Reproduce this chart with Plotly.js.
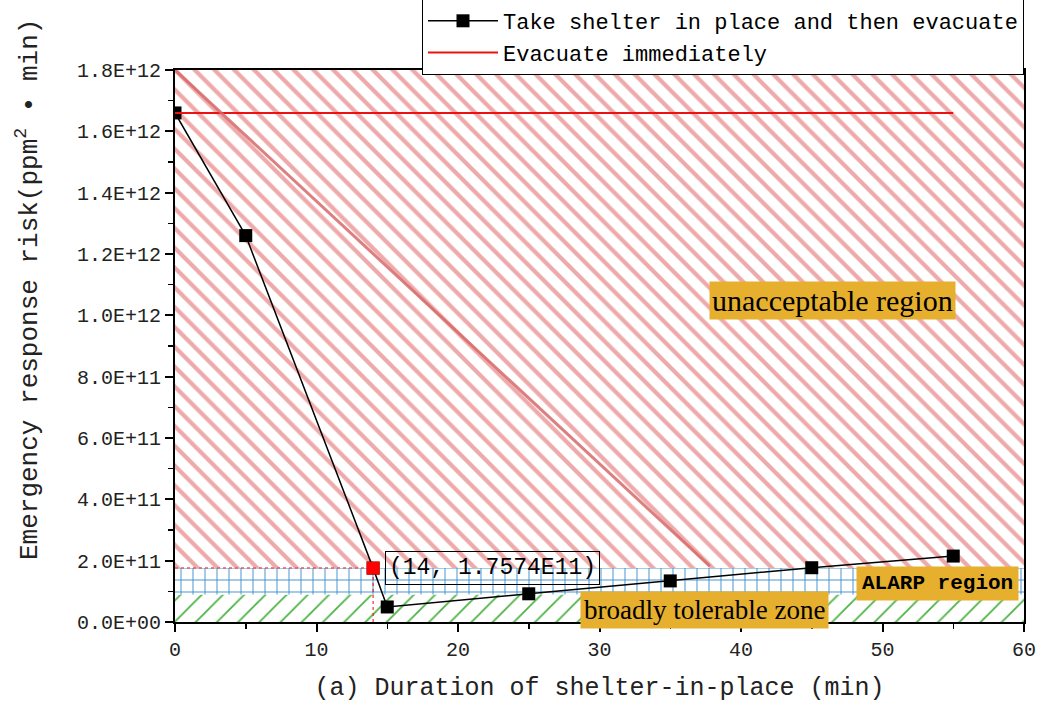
<!DOCTYPE html>
<html><head><meta charset="utf-8">
<script src="https://cdn.plot.ly/plotly-3.0.1.min.js"></script>
<style>html,body{margin:0;padding:0;background:#fff}#chart{width:1049px;height:711px}</style>
</head><body><div id="chart"></div>
<script>
// Data
const shelterX = [0, 5, 14, 15, 25, 35, 45, 55];
const shelterY = [1.66e12, 1.26e12, 1.7574e11, 0.49e11, 0.92e11, 1.34e11, 1.77e11, 2.15e11];
const evacX = [0, 55];
const evacY = [1.66e12, 1.66e12];
const turnX = [14];
const turnY = [1.7574e11];
const regionBounds = [0, 0.09e12, 1.7574e11, 1.8e12]; // tolerable | ALARP | unacceptable
const xRange = [0, 60];
const yTickVals = [0, 2e11, 4e11, 6e11, 8e11, 1e12, 1.2e12, 1.4e12, 1.6e12, 1.8e12];
const yTickText = ["0.0E+00","2.0E+11","4.0E+11","6.0E+11","8.0E+11","1.0E+12","1.2E+12","1.4E+12","1.6E+12","1.8E+12"];
const xTickVals = [0, 10, 20, 30, 40, 50, 60];

const mono = "Liberation Mono, DejaVu Sans Mono, monospace";
const serif = "Liberation Serif, DejaVu Serif, serif";

function band(y0, y1, pattern, name) {
  return {
    x: [xRange[0], xRange[1], xRange[1], xRange[0], xRange[0]],
    y: [y0, y0, y1, y1, y0],
    mode: 'lines', line: {width: 0}, fill: 'toself', fillcolor: 'rgba(255,255,255,0)',
    fillpattern: pattern, showlegend: false, hoverinfo: 'skip', name: name
  };
}

const traces = [
  band(regionBounds[0], regionBounds[1], {shape: '/', fgcolor: '#4db346', bgcolor: 'white', size: 15, solidity: 0.12}, 'tolerable'),
  band(regionBounds[1], regionBounds[2], {shape: '+', fgcolor: '#3d8fcc', bgcolor: 'white', size: 12, solidity: 0.15}, 'ALARP'),
  band(regionBounds[2], regionBounds[3], {shape: '\\', fgcolor: '#eeaaaa', bgcolor: 'white', size: 14, solidity: 0.3}, 'unacceptable'),
  {x: [turnX[0], turnX[0]], y: [0, turnY[0]], mode: 'lines', line: {color: 'red', width: 1, dash: 'dot'}, showlegend: false, hoverinfo: 'skip'},
  {x: [0, turnX[0]], y: [turnY[0], turnY[0]], mode: 'lines', line: {color: '#e05a6a', width: 1.5, dash: 'dot'}, showlegend: false, hoverinfo: 'skip'},
  {x: shelterX, y: shelterY, mode: 'lines+markers', name: 'Take shelter in place and then evacuate',
   line: {color: 'black', width: 1.5}, marker: {symbol: 'square', size: 13, color: 'black'}},
  {x: evacX, y: evacY, mode: 'lines', name: 'Evacuate immediately', line: {color: '#ee1111', width: 2}},
  {x: turnX, y: turnY, mode: 'markers', marker: {symbol: 'square', size: 13, color: '#ff0000'}, showlegend: false}
];

const layout = {
  width: 1049, height: 711,
  margin: {l: 175, r: 25, t: 70, b: 89, autoexpand: false},
  paper_bgcolor: 'white', plot_bgcolor: 'white',
  showlegend: true,
  legend: {x: 1, xanchor: 'right', y: 1 - 5 / 552, yanchor: 'bottom',
           bordercolor: 'black', borderwidth: 1, bgcolor: 'white',
           font: {family: mono, size: 22, color: 'black'}, tracegroupgap: 0, itemwidth: 70},
  xaxis: {range: xRange, tickvals: xTickVals, ticks: 'outside', ticklen: 8, tickwidth: 2, tickcolor: 'black',
          showline: true, linecolor: 'black', linewidth: 2, mirror: true, showgrid: false, zeroline: false,
          minor: {dtick: 5, ticks: 'outside', ticklen: 5, tickwidth: 1.5, tickcolor: 'black'},
          tickfont: {family: mono, size: 20, color: '#222'},
          title: {text: '(a) Duration of shelter-in-place (min)', font: {family: mono, size: 25, color: '#222'}, standoff: 16}},
  yaxis: {range: [0, 1.8e12], tickvals: yTickVals, ticktext: yTickText, ticks: 'outside', ticklen: 8, tickwidth: 2, tickcolor: 'black',
          showline: true, linecolor: 'black', linewidth: 2, mirror: true, showgrid: false, zeroline: false,
          minor: {dtick: 1e11, ticks: 'outside', ticklen: 5, tickwidth: 1.5, tickcolor: 'black'},
          tickfont: {family: mono, size: 20, color: '#222'}},
  shapes: [
    {type: 'line', xref: 'x', yref: 'y', x0: 0, y0: 1.8e12, x1: 37.8, y1: 0.182e12, line: {color: 'rgba(215,105,105,0.85)', width: 3}, layer: 'above'}
  ],
  annotations: [
    {xref: 'paper', yref: 'paper', x: (28 - 175) / 849, y: (622 - 290) / 552, xanchor: 'center', yanchor: 'middle', textangle: -90,
     text: 'Emergency response risk(ppm<sup>2</sup> • min)', showarrow: false, font: {family: mono, size: 26, color: '#222'}},
    {x: 14.85, y: 1.76e11, xanchor: 'left', yanchor: 'middle', text: '(14, 1.7574E11)', showarrow: false,
     font: {family: mono, size: 23, color: 'black'}, bordercolor: 'black', borderwidth: 1, borderpad: 3},
    {x: 46.5, y: 1.047e12, text: 'unacceptable region', showarrow: false, bgcolor: '#e6b02e',
     font: {family: serif, size: 30, color: 'black'}, borderpad: 2},
    {x: 37.4, y: 0.039e12, text: 'broadly tolerable zone', showarrow: false, bgcolor: '#e6b02e',
     font: {family: serif, size: 27, color: 'black'}, borderpad: 3},
    {x: 53.9, y: 1.27e11, text: '<b>ALARP region</b>', showarrow: false, bgcolor: '#e6b02e',
     font: {family: mono, size: 21, color: 'black'}, borderpad: 5}
  ]
};

Plotly.newPlot('chart', traces, layout, {displayModeBar: false, staticPlot: true});
</script></body></html>
